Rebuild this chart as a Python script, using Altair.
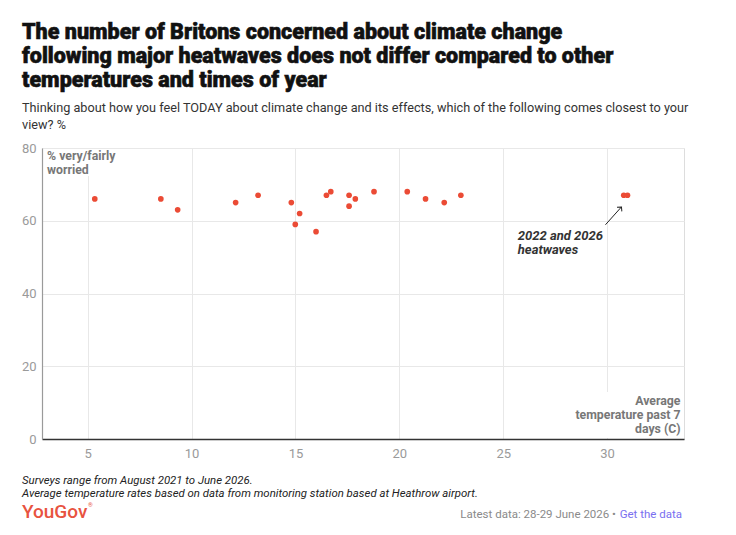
import altair as alt
import pandas as pd

# ---- data ----
temperature = [5.34, 8.52, 9.33, 12.12, 13.2, 14.8, 14.99, 15.2, 15.99, 16.49, 16.7,
               17.58, 17.58, 17.88, 18.78, 20.38, 21.26, 22.16, 22.96, 30.8, 30.98]
worried = [66, 66, 63, 65, 67, 65, 59, 62, 57, 67, 68,
           67, 64, 66, 68, 68, 66, 65, 67, 67, 67]

x_ticks = [5, 10, 15, 20, 25, 30]
y_ticks = [0, 20, 40, 60, 80]

title_text = ("The number of Britons concerned about climate change\n"
              "following major heatwaves does not differ compared to other\n"
              "temperatures and times of year")
subtitle_text = ("Thinking about how you feel TODAY about climate change and its effects, which of the following comes closest to your\n"
                 "view? %")
y_title = "% very/fairly\nworried"
x_title = "Average\ntemperature past 7\ndays (C)"
annotation_text = "2022 and 2026\nheatwaves"
note_text = ("Surveys range from August 2021 to June 2026.\n"
             "Average temperature rates based on data from monitoring station based at Heathrow airport.")

# annotation anchor / arrow (data units)
annot_pos = {"x": [25.7], "y": [54.8]}
arrow_seg = {"x": [29.92], "y": [58.9], "x2": [30.69], "y2": [63.8]}

W, H = 642, 291
X_DOMAIN = [2.8, 33.7]
Y_DOMAIN = [0, 80]
FONT = "Roboto"
RED = "#EB4B35"

df = pd.DataFrame({"temp": temperature, "worried": worried})
one = pd.DataFrame({"k": [0]})

xs = alt.Scale(domain=X_DOMAIN, nice=False, zero=False)
ys = alt.Scale(domain=Y_DOMAIN, nice=False)

points = alt.Chart(df).mark_circle(size=32, color=RED, opacity=1).encode(
    x=alt.X("temp:Q", scale=xs,
            axis=alt.Axis(values=x_ticks, title=None, grid=True, ticks=False,
                          domainColor="#333333", domainWidth=1.5,
                          labelColor="#9a9a9a", labelFontSize=13, labelPadding=8,
                          labelFont=FONT, gridColor="#e8e8e8")),
    y=alt.Y("worried:Q", scale=ys,
            axis=alt.Axis(values=y_ticks, title=None, grid=True, ticks=False,
                          domainColor="#9a9a9a", domainWidth=1.2,
                          labelColor="#9a9a9a", labelFontSize=13, labelPadding=6,
                          labelFont=FONT, gridColor="#e8e8e8")),
)

# white boxes behind in-plot axis titles (hide gridlines as in the reference)
ybox = alt.Chart(one).mark_rect(color="white").encode(
    x=alt.value(2), x2=alt.value(80), y=alt.value(1), y2=alt.value(28))
xbox = alt.Chart(one).mark_rect(color="white").encode(
    x=alt.value(526), x2=alt.value(641), y=alt.value(244), y2=alt.value(290))

ylab = alt.Chart(one).mark_text(
    align="left", baseline="alphabetic", font=FONT, fontSize=12.3, fontWeight="bold",
    color="#777777", lineBreak="\n", lineHeight=14
).encode(x=alt.value(5), y=alt.value(11.5), text=alt.value(y_title))

xlab = alt.Chart(one).mark_text(
    align="right", baseline="alphabetic", font=FONT, fontSize=12.3, fontWeight="bold",
    color="#777777", lineBreak="\n", lineHeight=14
).encode(x=alt.value(638.5), y=alt.value(256.5), text=alt.value(x_title))

annot_df = pd.DataFrame(annot_pos)
annot = alt.Chart(annot_df).mark_text(
    align="left", baseline="alphabetic", font=FONT, fontSize=13, fontWeight="bold",
    fontStyle="italic", color="#333333", lineBreak="\n", lineHeight=14
).encode(x=alt.X("x:Q", scale=xs), y=alt.Y("y:Q", scale=ys), text=alt.value(annotation_text))

arrow_df = pd.DataFrame(arrow_seg)
arrow = alt.Chart(arrow_df).mark_rule(color="#222222", strokeWidth=1).encode(
    x=alt.X("x:Q", scale=xs), y=alt.Y("y:Q", scale=ys),
    x2="x2:Q", y2="y2:Q")
head = alt.Chart(arrow_df).mark_point(
    shape="M-1,1L0,0L1,1", size=40, filled=False, color="#222222",
    strokeWidth=1, angle=40, opacity=1
).encode(x=alt.X("x2:Q", scale=xs), y=alt.Y("y2:Q", scale=ys))

title = alt.Chart(one).mark_text(
    align="left", baseline="alphabetic", font=FONT, fontSize=21.5, fontWeight=900,
    color="#111111", stroke="#111111", strokeWidth=0.6,
    lineBreak="\n", lineHeight=24
).encode(x=alt.value(-20), y=alt.value(-109), text=alt.value(title_text))

subtitle = alt.Chart(one).mark_text(
    align="left", baseline="alphabetic", font=FONT, fontSize=12.7,
    color="#333333", lineBreak="\n", lineHeight=16.5
).encode(x=alt.value(-20), y=alt.value(-36), text=alt.value(subtitle_text))

notes = alt.Chart(one).mark_text(
    align="left", baseline="alphabetic", font=FONT, fontSize=11.4, fontStyle="italic",
    color="#222222", lineBreak="\n", lineHeight=12.5
).encode(x=alt.value(-20), y=alt.value(336), text=alt.value(note_text))

logo = alt.Chart(one).mark_text(
    align="left", baseline="alphabetic", font=FONT, fontSize=19, fontWeight=500,
    color="#E8533F"
).encode(x=alt.value(-20), y=alt.value(370), text=alt.value("YouGov"))

logo_r = alt.Chart(one).mark_text(
    align="left", baseline="alphabetic", font=FONT, fontSize=6,
    color="#E8533F"
).encode(x=alt.value(46), y=alt.value(359), text=alt.value("®"))

latest = alt.Chart(one).mark_text(
    align="right", baseline="alphabetic", font=FONT, fontSize=11.5, color="#8a8a8a"
).encode(x=alt.value(574), y=alt.value(370), text=alt.value("Latest data: 28-29 June 2026 •"))

getdata = alt.Chart(one).mark_text(
    align="right", baseline="alphabetic", font=FONT, fontSize=11.5, color="#7a6ff0"
).encode(x=alt.value(640), y=alt.value(370), text=alt.value("Get the data"))

chart = alt.layer(
    points, ybox, xbox, ylab, xlab, arrow, head, annot,
    title, subtitle, notes, logo, logo_r, latest, getdata
).properties(
    width=W, height=H,
    autosize=alt.AutoSizeParams(type="none"),
    padding={"left": 34, "top": 140, "right": 44, "bottom": 88},
).configure_view(stroke=None).configure(background="white")

chart.save("out.html", embed_options={"renderer": "svg", "actions": False})
